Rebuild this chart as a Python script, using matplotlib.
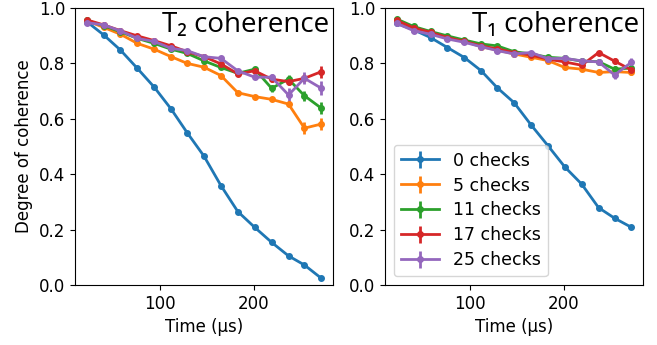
import matplotlib.pyplot as plt

times = [22, 40, 58, 76, 94, 112, 129, 147, 165, 183, 201, 219, 237, 254, 272]
labels = ["0 checks", "5 checks", "11 checks", "17 checks", "25 checks"]

# T2 coherence (left panel)
t2 = [
    [0.951, 0.903, 0.848, 0.782, 0.714, 0.635, 0.550, 0.465, 0.359, 0.265, 0.208, 0.154, 0.105, 0.072, 0.024],
    [0.954, 0.930, 0.905, 0.872, 0.851, 0.824, 0.800, 0.786, 0.756, 0.694, 0.680, 0.670, 0.653, 0.566, 0.581],
    [0.955, 0.936, 0.914, 0.890, 0.872, 0.851, 0.836, 0.809, 0.785, 0.764, 0.779, 0.710, 0.743, 0.683, 0.638],
    [0.957, 0.939, 0.918, 0.899, 0.882, 0.863, 0.842, 0.824, 0.798, 0.762, 0.773, 0.743, 0.734, 0.746, 0.770],
    [0.947, 0.939, 0.917, 0.890, 0.879, 0.854, 0.846, 0.824, 0.818, 0.773, 0.750, 0.750, 0.686, 0.746, 0.710],
]
t2_err = [
    [0.004] * 15,
    [0.004] * 12 + [0.010, 0.022, 0.022],
    [0.004] * 10 + [0.008, 0.012, 0.015, 0.018, 0.022],
    [0.004] * 10 + [0.008, 0.010, 0.012, 0.015, 0.022],
    [0.004] * 10 + [0.008, 0.012, 0.025, 0.022, 0.025],
]

# T1 coherence (right panel)
t1 = [
    [0.944, 0.921, 0.893, 0.857, 0.821, 0.773, 0.712, 0.658, 0.578, 0.503, 0.426, 0.364, 0.279, 0.241, 0.208],
    [0.957, 0.930, 0.913, 0.894, 0.879, 0.860, 0.848, 0.834, 0.822, 0.810, 0.785, 0.779, 0.767, 0.770, 0.767],
    [0.960, 0.933, 0.915, 0.899, 0.884, 0.870, 0.863, 0.842, 0.834, 0.822, 0.818, 0.808, 0.806, 0.779, 0.783],
    [0.955, 0.928, 0.912, 0.893, 0.879, 0.863, 0.852, 0.839, 0.830, 0.815, 0.805, 0.793, 0.839, 0.808, 0.776],
    [0.944, 0.918, 0.905, 0.888, 0.876, 0.860, 0.846, 0.834, 0.839, 0.817, 0.818, 0.809, 0.805, 0.758, 0.804],
]
t1_err = [
    [0.004] * 15,
    [0.004] * 12 + [0.006, 0.008, 0.010],
    [0.004] * 12 + [0.006, 0.010, 0.010],
    [0.004] * 12 + [0.006, 0.010, 0.012],
    [0.004] * 12 + [0.006, 0.014, 0.014],
]

colors = ["#1f77b4", "#ff7f0e", "#2ca02c", "#d62728", "#9467bd"]

fig = plt.figure(figsize=(6.57, 3.45), dpi=100)
ax1 = fig.add_axes([0.114, 0.174, 0.393, 0.803])
ax2 = fig.add_axes([0.586, 0.174, 0.393, 0.803])

for ax, data, errs, title in [(ax1, t2, t2_err, "T\u2082 coherence"),
                              (ax2, t1, t1_err, "T\u2081 coherence")]:
    for y, e, c, lab in zip(data, errs, colors, labels):
        ax.errorbar(times, y, yerr=e, color=c, marker="o", ms=4, lw=2,
                    elinewidth=2, label=lab)
    ax.set_ylim(0, 1.0)
    ax.set_xticks([100, 200])
    ax.set_xlabel("Time (\u00b5s)", fontsize=12)
    ax.tick_params(labelsize=12)
    ax.text(0.985, 0.99, title, transform=ax.transAxes, ha="right", va="top",
            fontsize=20, family=["Open Sans", "DejaVu Sans"])

ax1.set_ylabel("Degree of coherence", fontsize=12)
ax2.legend(loc="lower left", fontsize=12.5, handlelength=2.2, labelspacing=0.4)

fig.savefig("out.png", dpi=100)
